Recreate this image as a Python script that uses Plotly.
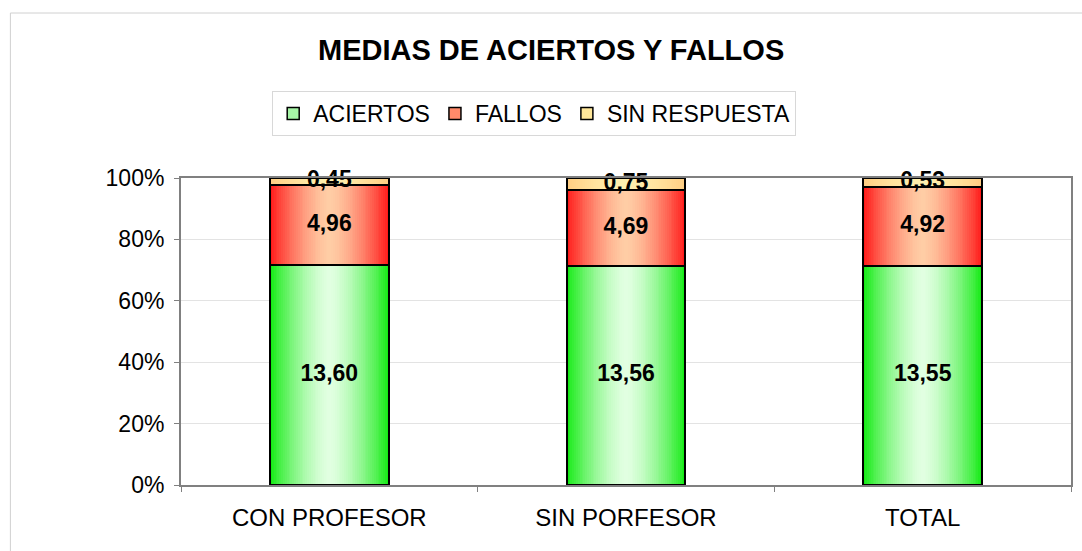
import plotly.graph_objects as go

# ---- data ----
categories = ["CON PROFESOR", "SIN PORFESOR", "TOTAL"]
series_names = ["ACIERTOS", "FALLOS", "SIN RESPUESTA"]
aciertos = [13.60, 13.56, 13.55]
fallos = [4.96, 4.69, 4.92]
sin_respuesta = [0.45, 0.75, 0.53]
y_tick_vals = [0, 20, 40, 60, 80, 100]
y_tick_text = ["0%", "20%", "40%", "60%", "80%", "100%"]
title_text = "MEDIAS DE ACIERTOS Y FALLOS"

# ---- style ----
W, H = 1082, 551
PX0, PX1, PY0, PY1 = 181, 1073, 178, 485  # plot area in pixels
BAR_W = 0.40
N_LAYERS = 32
edge_colors = [(20, 235, 20), (255, 25, 25), (255, 205, 130)]
center_colors = [(225, 255, 225), (255, 205, 165), (255, 240, 175)]
legend_colors = ["#a6f5a6", "#ff8a6a", "#ffe79a"]
FONT = "Liberation Sans"

def px_x(px):
    return (px - PX0) / (PX1 - PX0)

def px_y(py):
    return (PY1 - py) / (PY1 - PY0)

def mix(a, b, t):
    return "rgb({},{},{})".format(*[round(a[k] + (b[k] - a[k]) * t) for k in range(3)])

values = [aciertos, fallos, sin_respuesta]
totals = [sum(v[i] for v in values) for i in range(len(categories))]
pcts = [[v[i] / totals[i] * 100 for i in range(len(categories))] for v in values]
bases = []
acc = [0.0] * len(categories)
for p in pcts:
    bases.append(list(acc))
    acc = [acc[i] + p[i] for i in range(len(categories))]

fig = go.Figure()

# gradient layers (edge -> center)
for s in range(len(series_names)):
    for i in range(N_LAYERS):
        r_outer = 1 - i / N_LAYERS
        r_mid = 1 - (i + 0.5) / N_LAYERS
        t = 1.0 if i == 0 else r_mid ** 1.5
        col = mix(center_colors[s], edge_colors[s], t)
        fig.add_trace(go.Bar(
            x=categories, y=pcts[s], base=bases[s],
            width=BAR_W * r_outer,
            marker=dict(color=col, line=dict(width=0)),
            showlegend=False, hoverinfo="skip",
        ))

# outlines
for s in range(len(series_names)):
    fig.add_trace(go.Bar(
        x=categories, y=pcts[s], base=bases[s], width=BAR_W,
        marker=dict(color="rgba(0,0,0,0)", line=dict(color="black", width=2)),
        showlegend=False, hoverinfo="skip",
    ))

# legend entries
for s in range(len(series_names)):
    fig.add_trace(go.Bar(
        x=[None], y=[None], name=series_names[s],
        marker=dict(color=legend_colors[s], line=dict(color="black", width=1.5)),
        showlegend=True,
    ))

# data labels
for s in range(len(series_names)):
    fig.add_trace(go.Scatter(
        x=categories,
        y=[bases[s][i] + pcts[s][i] / 2 for i in range(len(categories))],
        mode="text",
        text=["<b>" + f"{v:.2f}".replace(".", ",") + "</b>" for v in values[s]],
        textfont=dict(family=FONT, size=23, color="black"),
        showlegend=False, hoverinfo="skip", cliponaxis=False,
    ))

fig.update_layout(
    width=W, height=H,
    barmode="overlay",
    bargap=0,
    paper_bgcolor="white", plot_bgcolor="white",
    margin=dict(l=PX0, r=W - PX1, t=PY0, b=H - PY1, pad=0),
    font=dict(family=FONT, color="black"),
    showlegend=True,
    legend=dict(
        orientation="h", x=px_x(535), y=px_y(91), xanchor="center", yanchor="top",
        font=dict(size=23, family=FONT, color="black"),
        bordercolor="#d8d8d8", borderwidth=1, bgcolor="white",
        itemwidth=30, traceorder="normal", tracegroupgap=0,
    ),
    xaxis=dict(
        type="category", categoryorder="array", categoryarray=categories,
        range=[-0.5, 2.5],
        showline=True, linecolor="#808080", linewidth=2, mirror=True,
        ticks="outside", tickson="boundaries", ticklen=5, tickcolor="#808080",
        tickfont=dict(size=24, family=FONT, color="black"),
        ticklabelstandoff=10,
        showgrid=False,
    ),
    yaxis=dict(
        range=[0, 100], tickvals=y_tick_vals, ticktext=y_tick_text,
        showline=True, linecolor="#808080", linewidth=2, mirror=True,
        ticks="outside", ticklen=5, tickcolor="#808080",
        tickfont=dict(size=23, family=FONT, color="black"),
        ticklabelstandoff=5,
        showgrid=True, gridcolor="#e3e3e3", gridwidth=1,
        zeroline=False,
    ),
    annotations=[dict(
        text="<b>" + title_text + "</b>", xref="paper", yref="paper",
        x=px_x(552), y=px_y(50), xanchor="center", yanchor="middle",
        showarrow=False, font=dict(size=29, family=FONT, color="black"),
    )],
    shapes=[dict(
        type="rect", xref="paper", yref="paper",
        x0=px_x(10), x1=px_x(1095), y0=px_y(570), y1=px_y(13),
        line=dict(color="#d0d0d0", width=1), fillcolor="rgba(0,0,0,0)", layer="below",
    )],
)

fig.write_html(
    "out.html",
    config={"displayModeBar": False},
    post_script="document.body.style.margin='0';document.body.style.overflow='hidden';",
)
